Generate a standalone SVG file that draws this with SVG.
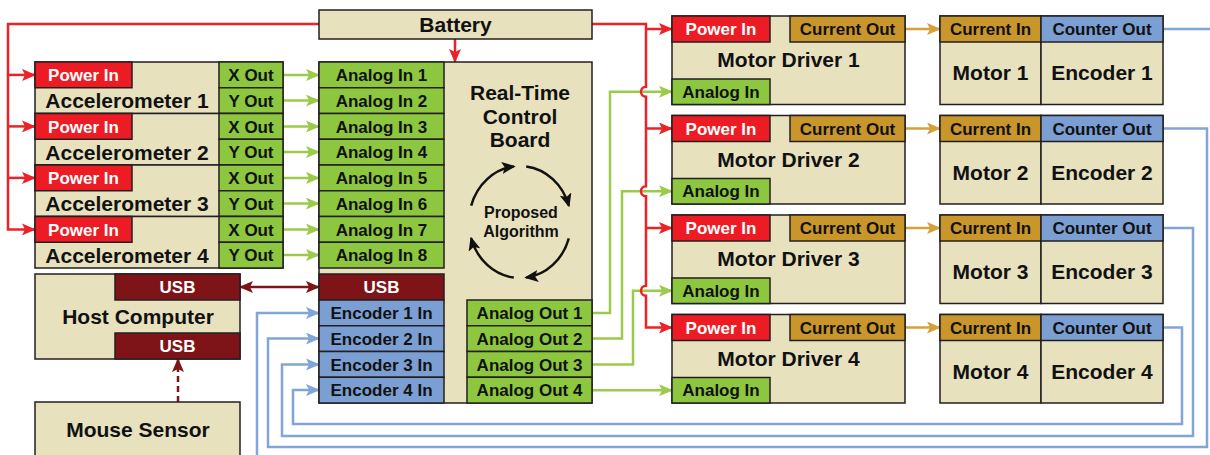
<svg xmlns="http://www.w3.org/2000/svg" width="1210" height="455" viewBox="0 0 1210 455">
<style>
.bx{stroke:#231f20;stroke-width:1.5}
.bg{fill:#e7e1be}
.rd{fill:#ed1c24}
.gr{fill:#8dc63f}
.gd{fill:#c9962b}
.bl{fill:#7b9fd2}
.dr{fill:#7e1418}
text{font-family:"Liberation Sans",Arial,sans-serif;font-weight:bold;text-anchor:middle;fill:#111}
.s{font-size:17px}
.b{font-size:21px}
.m{font-size:16px}
text.w{fill:#fff}
.ln{fill:none;stroke-width:2.5}
.lr{stroke:#ec2227}
.lg{stroke:#9ccb4b}
.lb{stroke:#82a5d8}
.lo{stroke:#d7a13a}
.ld{stroke:#7d1517}
.lk{stroke:#111}
</style>
<defs>
<marker id="ar" viewBox="0 0 14 12" refX="13" refY="6" markerWidth="14" markerHeight="12" markerUnits="userSpaceOnUse" orient="auto"><path d="M0,0 L14,6 L0,12 L3,6 z" fill="#ec2227"/></marker>
<marker id="ag" viewBox="0 0 14 12" refX="13" refY="6" markerWidth="14" markerHeight="12" markerUnits="userSpaceOnUse" orient="auto"><path d="M0,0 L14,6 L0,12 L3,6 z" fill="#9ccb4b"/></marker>
<marker id="ab" viewBox="0 0 14 12" refX="13" refY="6" markerWidth="14" markerHeight="12" markerUnits="userSpaceOnUse" orient="auto"><path d="M0,0 L14,6 L0,12 L3,6 z" fill="#82a5d8"/></marker>
<marker id="ao" viewBox="0 0 14 12" refX="13" refY="6" markerWidth="14" markerHeight="12" markerUnits="userSpaceOnUse" orient="auto"><path d="M0,0 L14,6 L0,12 L3,6 z" fill="#d7a13a"/></marker>
<marker id="ad" viewBox="0 0 14 12" refX="13" refY="6" markerWidth="14" markerHeight="12" markerUnits="userSpaceOnUse" orient="auto-start-reverse"><path d="M0,0 L14,6 L0,12 L3,6 z" fill="#7d1517"/></marker>
<marker id="ak" viewBox="0 0 14 12" refX="12" refY="6" markerWidth="14" markerHeight="12" markerUnits="userSpaceOnUse" orient="auto"><path d="M0,0 L14,6 L0,12 L3,6 z" fill="#111"/></marker>
</defs>

<g id="connectors">
<path class="ln lr" d="M319,24 H8 V229.4 H35" marker-end="url(#ar)"/>
<path class="ln lr" d="M8,74.9 H35" marker-end="url(#ar)"/>
<path class="ln lr" d="M8,126.4 H35" marker-end="url(#ar)"/>
<path class="ln lr" d="M8,177.9 H35" marker-end="url(#ar)"/>
<path class="ln lr" d="M455,39 V62" marker-end="url(#ar)"/>
<path class="ln lg" d="M592,312.9 H610 V91.75 H672" marker-end="url(#ag)"/>
<path class="ln lg" d="M592,338.6 H622 V191.25 H672" marker-end="url(#ag)"/>
<path class="ln lg" d="M592,364.4 H633 V290.75 H672" marker-end="url(#ag)"/>
<path class="ln lg" d="M592,390.2 H672" marker-end="url(#ag)"/>
<path class="ln lr" d="M592,24 H646 V86.75 A5,5 0 0 0 646,96.75 V186.25 A5,5 0 0 0 646,196.25 V285.75 A5,5 0 0 0 646,295.75 V327.5 H672" marker-end="url(#ar)"/>
<path class="ln lr" d="M646,29 H672" marker-end="url(#ar)"/>
<path class="ln lr" d="M646,128.5 H672" marker-end="url(#ar)"/>
<path class="ln lr" d="M646,228 H672" marker-end="url(#ar)"/>
<path class="ln lg" d="M283,74.9 H319" marker-end="url(#ag)"/>
<path class="ln lg" d="M283,100.6 H319" marker-end="url(#ag)"/>
<path class="ln lg" d="M283,126.4 H319" marker-end="url(#ag)"/>
<path class="ln lg" d="M283,152.1 H319" marker-end="url(#ag)"/>
<path class="ln lg" d="M283,177.9 H319" marker-end="url(#ag)"/>
<path class="ln lg" d="M283,203.6 H319" marker-end="url(#ag)"/>
<path class="ln lg" d="M283,229.4 H319" marker-end="url(#ag)"/>
<path class="ln lg" d="M283,255.1 H319" marker-end="url(#ag)"/>
<path class="ln lo" d="M905,29 H940" marker-end="url(#ao)"/>
<path class="ln lo" d="M905,128.5 H940" marker-end="url(#ao)"/>
<path class="ln lo" d="M905,228 H940" marker-end="url(#ao)"/>
<path class="ln lo" d="M905,327.5 H940" marker-end="url(#ao)"/>
<path class="ln lb" d="M1163,29 H1214"/>
<path class="ln lb" d="M257,462 V312.9 H319" marker-end="url(#ab)"/>
<path class="ln lb" d="M1163,128.5 H1207 V447 H268 V338.6 H319" marker-end="url(#ab)"/>
<path class="ln lb" d="M1163,228 H1193 V436 H282 V364.4 H319" marker-end="url(#ab)"/>
<path class="ln lb" d="M1163,327.5 H1182 V424 H293 V390.1 H319" marker-end="url(#ab)"/>
<path class="ln ld" d="M240,287 H319" marker-start="url(#ad)" marker-end="url(#ad)"/>
<path class="ln ld" d="M178,402 V359" stroke-dasharray="6,4" marker-end="url(#ad)"/>
</g>

<g id="battery">
<rect class="bx bg" x="319" y="10" width="273" height="29"/>
<text class="b" x="455.5" y="31.5">Battery</text>
</g>

<g id="accelerometer-1" transform="translate(0,62)">
<rect class="bx bg" x="35" y="0" width="248" height="51.5"/>
<rect class="bx rd" x="35" y="0" width="97" height="25.75"/>
<rect class="bx gr" x="219" y="0" width="64" height="25.75"/>
<rect class="bx gr" x="219" y="25.75" width="64" height="25.75"/>
<text class="s w" x="83.5" y="19">Power In</text>
<text class="s" x="251" y="19">X Out</text>
<text class="s" x="251" y="44.8">Y Out</text>
<text class="b" x="127" y="46.2">Accelerometer 1</text>
</g>
<g id="accelerometer-2" transform="translate(0,113.5)">
<rect class="bx bg" x="35" y="0" width="248" height="51.5"/>
<rect class="bx rd" x="35" y="0" width="97" height="25.75"/>
<rect class="bx gr" x="219" y="0" width="64" height="25.75"/>
<rect class="bx gr" x="219" y="25.75" width="64" height="25.75"/>
<text class="s w" x="83.5" y="19">Power In</text>
<text class="s" x="251" y="19">X Out</text>
<text class="s" x="251" y="44.8">Y Out</text>
<text class="b" x="127" y="46.2">Accelerometer 2</text>
</g>
<g id="accelerometer-3" transform="translate(0,165)">
<rect class="bx bg" x="35" y="0" width="248" height="51.5"/>
<rect class="bx rd" x="35" y="0" width="97" height="25.75"/>
<rect class="bx gr" x="219" y="0" width="64" height="25.75"/>
<rect class="bx gr" x="219" y="25.75" width="64" height="25.75"/>
<text class="s w" x="83.5" y="19">Power In</text>
<text class="s" x="251" y="19">X Out</text>
<text class="s" x="251" y="44.8">Y Out</text>
<text class="b" x="127" y="46.2">Accelerometer 3</text>
</g>
<g id="accelerometer-4" transform="translate(0,216.5)">
<rect class="bx bg" x="35" y="0" width="248" height="51.5"/>
<rect class="bx rd" x="35" y="0" width="97" height="25.75"/>
<rect class="bx gr" x="219" y="0" width="64" height="25.75"/>
<rect class="bx gr" x="219" y="25.75" width="64" height="25.75"/>
<text class="s w" x="83.5" y="19">Power In</text>
<text class="s" x="251" y="19">X Out</text>
<text class="s" x="251" y="44.8">Y Out</text>
<text class="b" x="127" y="46.2">Accelerometer 4</text>
</g>

<g id="host-computer">
<rect class="bx bg" x="35" y="274" width="205" height="85"/>
<rect class="bx dr" x="115" y="274" width="125" height="26"/>
<rect class="bx dr" x="115" y="333" width="125" height="26"/>
<text class="s w" x="177.5" y="293">USB</text>
<text class="s w" x="177.5" y="352">USB</text>
<text class="b" x="138" y="323.5">Host Computer</text>
</g>

<g id="mouse-sensor">
<rect class="bx bg" x="35" y="402" width="205" height="62"/>
<text class="b" x="138" y="437">Mouse Sensor</text>
</g>

<g id="control-board">
<rect class="bx bg" x="319" y="62" width="273" height="341"/>
<rect class="bx gr" x="319" y="62" width="125" height="25.75"/>
<rect class="bx gr" x="319" y="87.75" width="125" height="25.75"/>
<rect class="bx gr" x="319" y="113.5" width="125" height="25.75"/>
<rect class="bx gr" x="319" y="139.25" width="125" height="25.75"/>
<rect class="bx gr" x="319" y="165" width="125" height="25.75"/>
<rect class="bx gr" x="319" y="190.75" width="125" height="25.75"/>
<rect class="bx gr" x="319" y="216.5" width="125" height="25.75"/>
<rect class="bx gr" x="319" y="242.25" width="125" height="25.75"/>
<text class="s" x="381.5" y="81">Analog In 1</text>
<text class="s" x="381.5" y="106.8">Analog In 2</text>
<text class="s" x="381.5" y="132.5">Analog In 3</text>
<text class="s" x="381.5" y="158.3">Analog In 4</text>
<text class="s" x="381.5" y="184">Analog In 5</text>
<text class="s" x="381.5" y="209.8">Analog In 6</text>
<text class="s" x="381.5" y="235.5">Analog In 7</text>
<text class="s" x="381.5" y="261.3">Analog In 8</text>
<rect class="bx dr" x="319" y="274" width="125" height="26"/>
<text class="s w" x="381.5" y="293">USB</text>
<rect class="bx bl" x="319" y="300" width="125" height="25.75"/>
<rect class="bx bl" x="319" y="325.75" width="125" height="25.75"/>
<rect class="bx bl" x="319" y="351.5" width="125" height="25.75"/>
<rect class="bx bl" x="319" y="377.25" width="125" height="25.75"/>
<text class="s" x="381.5" y="319">Encoder 1 In</text>
<text class="s" x="381.5" y="344.8">Encoder 2 In</text>
<text class="s" x="381.5" y="370.5">Encoder 3 In</text>
<text class="s" x="381.5" y="396.3">Encoder 4 In</text>
<rect class="bx gr" x="467" y="300" width="125" height="25.75"/>
<rect class="bx gr" x="467" y="325.75" width="125" height="25.75"/>
<rect class="bx gr" x="467" y="351.5" width="125" height="25.75"/>
<rect class="bx gr" x="467" y="377.25" width="125" height="25.75"/>
<text class="s" x="529.5" y="319">Analog Out 1</text>
<text class="s" x="529.5" y="344.8">Analog Out 2</text>
<text class="s" x="529.5" y="370.5">Analog Out 3</text>
<text class="s" x="529.5" y="396.3">Analog Out 4</text>
<text class="b" x="520" y="100">Real-Time</text>
<text class="b" x="520" y="123.5">Control</text>
<text class="b" x="520" y="147">Board</text>
<text class="m" x="521" y="218">Proposed</text>
<text class="m" x="521" y="237">Algorithm</text>
<path class="ln lk" d="M471.2,205.6 A51,56 0 0 1 513.8,166.4" marker-end="url(#ak)"/>
<path class="ln lk" d="M526.2,166.4 A51,56 0 0 1 568.8,205.6" marker-end="url(#ak)"/>
<path class="ln lk" d="M568.8,238.4 A51,56 0 0 1 526.2,277.6" marker-end="url(#ak)"/>
<path class="ln lk" d="M513.8,277.6 A51,56 0 0 1 471.2,238.4" marker-end="url(#ak)"/>
</g>

<g id="motor-driver-1" transform="translate(0,16)">
<rect class="bx bg" x="672" y="0" width="233" height="88.5"/>
<rect class="bx rd" x="672" y="0" width="98" height="26"/>
<rect class="bx gd" x="790" y="0" width="115" height="26"/>
<rect class="bx gr" x="672" y="63" width="98" height="25.5"/>
<text class="s w" x="721" y="19">Power In</text>
<text class="s" x="847.5" y="19">Current Out</text>
<text class="s" x="721" y="81.8">Analog In</text>
<text class="b" x="788.5" y="51">Motor Driver 1</text>
</g>
<g id="motor-driver-2" transform="translate(0,115.5)">
<rect class="bx bg" x="672" y="0" width="233" height="88.5"/>
<rect class="bx rd" x="672" y="0" width="98" height="26"/>
<rect class="bx gd" x="790" y="0" width="115" height="26"/>
<rect class="bx gr" x="672" y="63" width="98" height="25.5"/>
<text class="s w" x="721" y="19">Power In</text>
<text class="s" x="847.5" y="19">Current Out</text>
<text class="s" x="721" y="81.8">Analog In</text>
<text class="b" x="788.5" y="51">Motor Driver 2</text>
</g>
<g id="motor-driver-3" transform="translate(0,215)">
<rect class="bx bg" x="672" y="0" width="233" height="88.5"/>
<rect class="bx rd" x="672" y="0" width="98" height="26"/>
<rect class="bx gd" x="790" y="0" width="115" height="26"/>
<rect class="bx gr" x="672" y="63" width="98" height="25.5"/>
<text class="s w" x="721" y="19">Power In</text>
<text class="s" x="847.5" y="19">Current Out</text>
<text class="s" x="721" y="81.8">Analog In</text>
<text class="b" x="788.5" y="51">Motor Driver 3</text>
</g>
<g id="motor-driver-4" transform="translate(0,314.5)">
<rect class="bx bg" x="672" y="0" width="233" height="88.5"/>
<rect class="bx rd" x="672" y="0" width="98" height="26"/>
<rect class="bx gd" x="790" y="0" width="115" height="26"/>
<rect class="bx gr" x="672" y="63" width="98" height="25.5"/>
<text class="s w" x="721" y="19">Power In</text>
<text class="s" x="847.5" y="19">Current Out</text>
<text class="s" x="721" y="81.8">Analog In</text>
<text class="b" x="788.5" y="51">Motor Driver 4</text>
</g>

<g id="motor-encoder-1" transform="translate(0,16)">
<rect class="bx bg" x="940" y="0" width="101" height="88.5"/>
<rect class="bx bg" x="1041" y="0" width="122" height="88.5"/>
<rect class="bx gd" x="940" y="0" width="101" height="26"/>
<rect class="bx bl" x="1041" y="0" width="122" height="26"/>
<text class="s" x="990.5" y="19">Current In</text>
<text class="s" x="1102" y="19">Counter Out</text>
<text class="b" x="990.5" y="64">Motor 1</text>
<text class="b" x="1102" y="64">Encoder 1</text>
</g>
<g id="motor-encoder-2" transform="translate(0,115.5)">
<rect class="bx bg" x="940" y="0" width="101" height="88.5"/>
<rect class="bx bg" x="1041" y="0" width="122" height="88.5"/>
<rect class="bx gd" x="940" y="0" width="101" height="26"/>
<rect class="bx bl" x="1041" y="0" width="122" height="26"/>
<text class="s" x="990.5" y="19">Current In</text>
<text class="s" x="1102" y="19">Counter Out</text>
<text class="b" x="990.5" y="64">Motor 2</text>
<text class="b" x="1102" y="64">Encoder 2</text>
</g>
<g id="motor-encoder-3" transform="translate(0,215)">
<rect class="bx bg" x="940" y="0" width="101" height="88.5"/>
<rect class="bx bg" x="1041" y="0" width="122" height="88.5"/>
<rect class="bx gd" x="940" y="0" width="101" height="26"/>
<rect class="bx bl" x="1041" y="0" width="122" height="26"/>
<text class="s" x="990.5" y="19">Current In</text>
<text class="s" x="1102" y="19">Counter Out</text>
<text class="b" x="990.5" y="64">Motor 3</text>
<text class="b" x="1102" y="64">Encoder 3</text>
</g>
<g id="motor-encoder-4" transform="translate(0,314.5)">
<rect class="bx bg" x="940" y="0" width="101" height="88.5"/>
<rect class="bx bg" x="1041" y="0" width="122" height="88.5"/>
<rect class="bx gd" x="940" y="0" width="101" height="26"/>
<rect class="bx bl" x="1041" y="0" width="122" height="26"/>
<text class="s" x="990.5" y="19">Current In</text>
<text class="s" x="1102" y="19">Counter Out</text>
<text class="b" x="990.5" y="64">Motor 4</text>
<text class="b" x="1102" y="64">Encoder 4</text>
</g>
</svg>
